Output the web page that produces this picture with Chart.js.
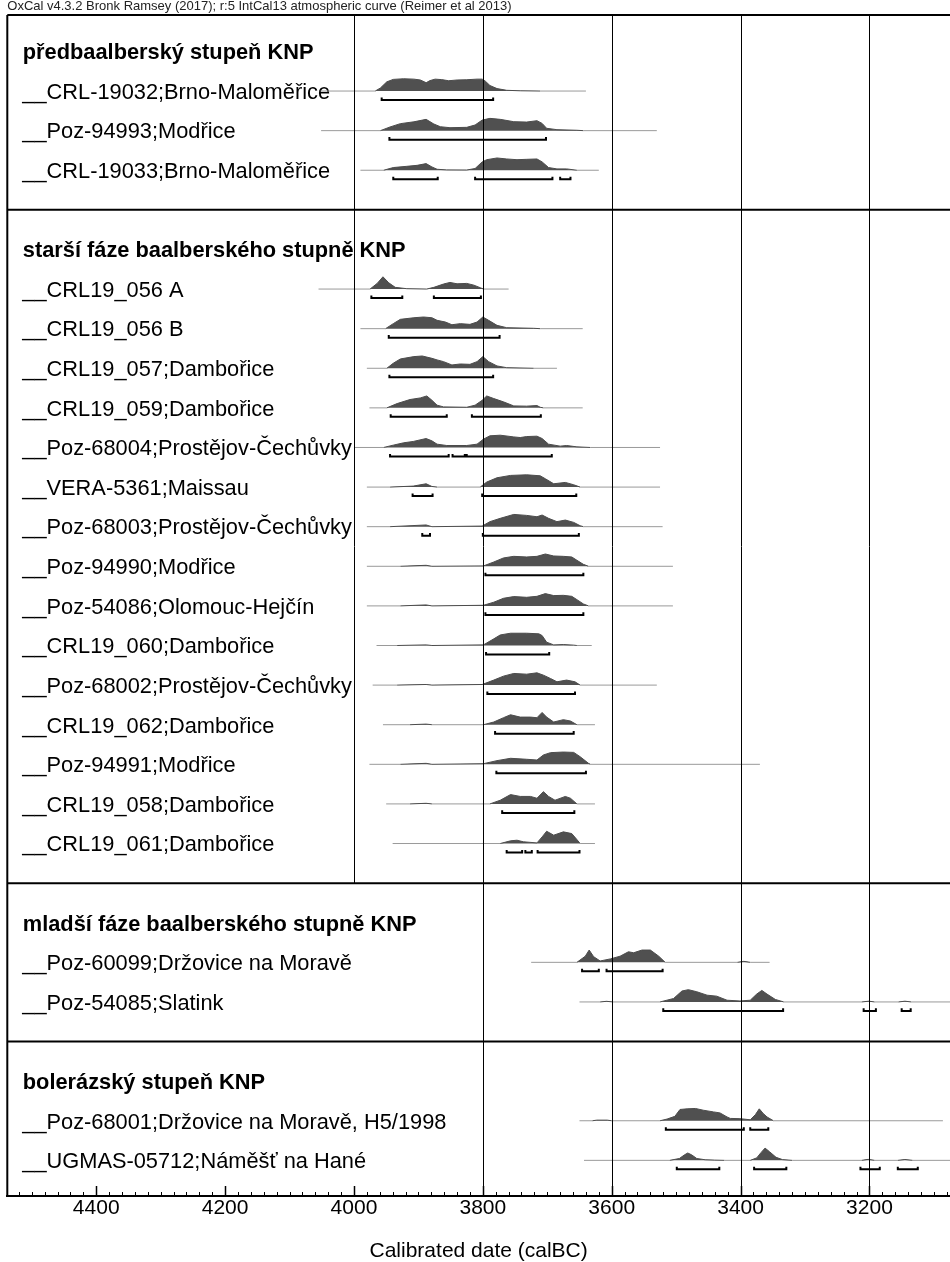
<!DOCTYPE html>
<html lang="cs">
<head>
<meta charset="UTF-8">
<title>OxCal multiplot</title>
<script src="https://cdn.jsdelivr.net/npm/chart.js"></script>
<style>
  body { margin: 0; background: #fff; }
  canvas { display: block; }
</style>
</head>
<body>
<canvas id="oxcal" width="950" height="1262"></canvas>
<script>
const header = 'OxCal v4.3.2 Bronk Ramsey (2017); r:5 IntCal13 atmospheric curve (Reimer et al 2013)';

const sections = [
  'předbaalberský stupeň KNP',
  'starší fáze baalberského stupně KNP',
  'mladší fáze baalberského stupně KNP',
  'bolerázský stupeň KNP'
];

const sampleSection = [0, 0, 0, 1, 1, 1, 1, 1, 1, 1, 1, 1, 1, 1, 1, 1, 1, 1, 2, 2, 3, 3];

const sampleLabels = [
  '__CRL-19032;Brno-Maloměřice',
  '__Poz-94993;Modřice',
  '__CRL-19033;Brno-Maloměřice',
  '__CRL19_056 A',
  '__CRL19_056 B',
  '__CRL19_057;Dambořice',
  '__CRL19_059;Dambořice',
  '__Poz-68004;Prostějov-Čechůvky',
  '__VERA-5361;Maissau',
  '__Poz-68003;Prostějov-Čechůvky',
  '__Poz-94990;Modřice',
  '__Poz-54086;Olomouc-Hejčín',
  '__CRL19_060;Dambořice',
  '__Poz-68002;Prostějov-Čechůvky',
  '__CRL19_062;Dambořice',
  '__Poz-94991;Modřice',
  '__CRL19_058;Dambořice',
  '__CRL19_061;Dambořice',
  '__Poz-60099;Držovice na Moravě',
  '__Poz-54085;Slatink',
  '__Poz-68001;Držovice na Moravě, H5/1998',
  '__UGMAS-05712;Náměšť na Hané'
];

// extent of the thin line under each distribution (calBC)
const lineSpans = [
  [4052, 3640], [4051, 3530], [3990, 3620],
  [4055, 3760], [3990, 3645], [3980, 3685], [3976, 3645], [4000, 3525],
  [3980, 3525], [3980, 3521], [3980, 3505], [3980, 3505], [3965, 3631],
  [3971, 3530], [3955, 3626], [3976, 3370], [3950, 3626], [3940, 3626],
  [3725, 3355], [3650, 3060],
  [3650, 3086], [3643, 3060]
];

// probability shape: [calBC, height relative to peak]
const densities = [
  [[3967,0],[3959,.25],[3949,.75],[3939,.95],[3923,1],[3907,.97],[3897,.9],[3888,.68],[3882,.85],[3874,.97],[3864,.93],[3853,.84],[3840,.9],[3825,.92],[3809,.97],[3801,.97],[3796,.8],[3789,.45],[3778,.2],[3763,.06],[3742,.02],[3711,0]],
  [[3959,0],[3944,.3],[3928,.57],[3907,.72],[3888,.92],[3876,.54],[3866,.32],[3851,.24],[3825,.27],[3812,.46],[3801,.86],[3789,1],[3773,.92],[3752,.73],[3732,.7],[3716,.81],[3708,.59],[3701,.19],[3685,.08],[3654,.03],[3644,0]],
  [[3954,0],[3939,.22],[3918,.32],[3902,.4],[3888,.54],[3879,.27],[3871,.08],[3856,.03],[3825,.02],[3812,.14],[3801,.68],[3794,.86],[3778,1],[3763,.92],[3747,.86],[3732,.89],[3716,.92],[3708,.68],[3698,.22],[3685,.11],[3670,.11],[3654,0]],
  [[3975,0],[3964,.46],[3955,1],[3946,.51],[3936,.14],[3918,.03],[3887,0],[3876,.14],[3861,.41],[3851,.54],[3840,.43],[3825,.46],[3814,.32],[3804,.11],[3799,0]],
  [[3951,0],[3939,.41],[3928,.76],[3907,.89],[3892,.95],[3879,.89],[3871,.68],[3858,.54],[3848,.32],[3835,.41],[3820,.35],[3809,.54],[3800,.95],[3791,.68],[3778,.27],[3763,.08],[3721,.03],[3711,0]],
  [[3949,0],[3939,.41],[3928,.76],[3907,.95],[3894,1],[3879,.81],[3871,.68],[3861,.54],[3848,.27],[3835,.35],[3820,.32],[3809,.54],[3800,.95],[3791,.54],[3778,.19],[3763,.05],[3721,0]],
  [[3949,0],[3933,.35],[3913,.68],[3897,.81],[3887,.97],[3879,.62],[3871,.22],[3861,.08],[3825,.05],[3812,.22],[3801,.62],[3794,.97],[3783,.76],[3768,.49],[3752,.16],[3732,.14],[3716,.19],[3711,.05],[3706,0]],
  [[3954,0],[3939,.19],[3923,.38],[3908,.49],[3888,.73],[3879,.54],[3871,.27],[3856,.16],[3825,.16],[3809,.27],[3799,.68],[3789,.95],[3773,1],[3752,.86],[3742,.81],[3732,.89],[3716,.92],[3708,.73],[3698,.27],[3680,.11],[3670,.16],[3654,.05],[3633,0]],
  [[3944,0],[3908,.08],[3888,.27],[3879,.05],[3871,0],[3804,0],[3794,.41],[3778,.76],[3757,.95],[3732,1],[3711,.92],[3703,.68],[3690,.27],[3672,.38],[3659,.19],[3649,0]],
  [[3944,0],[3888,.14],[3879,0],[3801,.05],[3789,.41],[3773,.68],[3752,1],[3732,.92],[3716,.81],[3708,.95],[3698,.68],[3685,.41],[3672,.54],[3659,.35],[3649,.08],[3644,0]],
  [[3928,0],[3888,.08],[3879,0],[3799,.03],[3783,.35],[3768,.68],[3752,.81],[3732,.76],[3716,.81],[3703,1],[3690,.84],[3675,.81],[3662,.76],[3654,.49],[3644,.16],[3636,0]],
  [[3928,0],[3888,.08],[3879,0],[3799,.05],[3783,.3],[3768,.62],[3752,.76],[3732,.7],[3716,.78],[3703,1],[3690,.84],[3675,.86],[3662,.78],[3654,.51],[3644,.16],[3636,0]],
  [[3933,0],[3888,.05],[3879,0],[3799,.05],[3783,.54],[3773,.86],[3757,1],[3732,1],[3713,.95],[3708,.81],[3701,.27],[3690,.05],[3675,.08],[3659,.03],[3654,0]],
  [[3933,0],[3888,.05],[3879,0],[3801,.05],[3783,.41],[3768,.73],[3752,.95],[3732,.89],[3716,1],[3706,.81],[3695,.54],[3685,.27],[3670,.41],[3657,.27],[3649,0]],
  [[3913,0],[3888,.05],[3879,0],[3799,0],[3783,.22],[3768,.57],[3757,.81],[3742,.62],[3726,.62],[3716,.57],[3708,1],[3701,.62],[3690,.22],[3675,.41],[3664,.3],[3654,0]],
  [[3928,0],[3888,.08],[3879,0],[3799,.05],[3778,.3],[3757,.49],[3732,.41],[3716,.35],[3706,.76],[3695,.95],[3675,1],[3659,.97],[3649,.62],[3636,.08],[3633,0]],
  [[3913,0],[3888,.05],[3879,0],[3789,0],[3773,.3],[3757,.76],[3742,.61],[3726,.61],[3716,.46],[3706,1],[3698,.61],[3688,.3],[3672,.61],[3664,.46],[3654,0]],
  [[3773,0],[3757,.22],[3747,.27],[3737,.14],[3716,.05],[3708,.54],[3701,1],[3690,.68],[3675,.95],[3662,.81],[3654,.32],[3649,0]],
  [[3654,0],[3641,.5],[3635,1],[3628,.46],[3618,.11],[3602,.28],[3587,.5],[3574,.86],[3566,.78],[3553,1],[3540,1],[3527,.5],[3517,0],[3405,0],[3395,.08],[3385,0]],
  [[3618,0],[3608,.05],[3598,0],[3525,0],[3504,.28],[3491,.89],[3481,1],[3468,.83],[3452,.55],[3437,.47],[3421,.14],[3401,.08],[3385,.14],[3375,.64],[3367,.94],[3359,.64],[3346,.2],[3333,0],[3212,0],[3201,.06],[3192,0],[3155,0],[3145,.06],[3135,0]],
  [[3630,0],[3623,.05],[3607,.05],[3600,0],[3525,0],[3514,.14],[3502,.36],[3494,.92],[3483,.97],[3470,1],[3458,.86],[3442,.72],[3432,.64],[3421,.31],[3416,.19],[3401,.17],[3385,.08],[3377,.5],[3371,.97],[3365,.6],[3359,.31],[3349,0]],
  [[3510,0],[3495,.15],[3487,.45],[3482,.6],[3476,.45],[3468,.15],[3455,.05],[3440,.02],[3425,0],[3385,0],[3375,.2],[3368,.65],[3362,1],[3355,.7],[3345,.25],[3335,.06],[3320,0],[3212,0],[3202,.08],[3192,0],[3156,0],[3145,.07],[3133,0]]
];

// 95.4% ranges (calBC)
const hpdRanges = [
  [[3957, 3784]],
  [[3945, 3702]],
  [[3939, 3870], [3812, 3692], [3680, 3664]],
  [[3973, 3925], [3876, 3803]],
  [[3946, 3774]],
  [[3945, 3784]],
  [[3943, 3856], [3817, 3710]],
  [[3944, 3853], [3847, 3828], [3825, 3693]],
  [[3909, 3878], [3801, 3655]],
  [[3894, 3882], [3800, 3651]],
  [[3796, 3644]],
  [[3796, 3644]],
  [[3795, 3697]],
  [[3793, 3657]],
  [[3781, 3659]],
  [[3779, 3640]],
  [[3770, 3658]],
  [[3763, 3739], [3734, 3724], [3715, 3650]],
  [[3646, 3620], [3608, 3521]],
  [[3520, 3334], [3209, 3190], [3150, 3136]],
  [[3516, 3395], [3385, 3357]],
  [[3499, 3433], [3379, 3329], [3214, 3184], [3156, 3125]]
];

const sectionGrid = [
  [4000, 3800, 3600, 3400, 3200],
  [4000, 3800, 3600, 3400, 3200],
  [3800, 3600, 3400, 3200],
  [3800, 3600, 3400, 3200]
];

const FONT = "'Liberation Sans', Arial, sans-serif";
const PEAK = 0.31;   // distribution height in rows
const BAR = 0.227;   // range bar below baseline
const TICK = 0.065;  // bracket end height

// each section: title line, one line per sample, then its border
let lineNo = 0;
const titleLine = [], sampleLine = [], borderLine = [];
sections.forEach((s, si) => {
  titleLine.push(lineNo++);
  sampleLabels.forEach((l, i) => { if (sampleSection[i] === si) sampleLine[i] = lineNo++; });
  borderLine.push(lineNo++);
});

const datasets = [];
sampleLabels.forEach((label, i) => {
  const base = sampleLine[i];
  const pts = [[lineSpans[i][0], 0], ...densities[i], [lineSpans[i][1], 0]];
  datasets.push({
    label: label,
    data: pts.map(([x, h]) => ({ x: x, y: base - h * PEAK })),
    fill: { value: base },
    backgroundColor: '#505050',
    borderWidth: 1,
    segment: {
      borderColor: c => (c.p0.parsed.y === base && c.p1.parsed.y === base) ? '#9a9a9a' : '#4c4c4c'
    },
    pointRadius: 0,
    tension: 0
  });
  const bars = [];
  const yb = base + BAR;
  hpdRanges[i].forEach(([a, b]) => {
    bars.push({ x: a, y: yb - TICK }, { x: a, y: yb }, { x: b, y: yb }, { x: b, y: yb - TICK }, { x: b, y: null });
  });
  datasets.push({
    label: label + ' 95.4%',
    data: bars,
    borderColor: '#000',
    borderWidth: 2,
    borderJoinStyle: 'miter',
    pointRadius: 0,
    fill: false,
    spanGaps: false
  });
});

const framePlugin = {
  id: 'frame',
  beforeDatasetsDraw(chart) {
    const { ctx, chartArea: a, scales: { y } } = chart;
    ctx.save();
    ctx.fillStyle = '#000';
    ctx.textBaseline = 'alphabetic';
    ctx.font = 'bold 21.8px ' + FONT;
    sections.forEach((t, si) => ctx.fillText(t, a.left + 15.5, y.getPixelForValue(titleLine[si]) + 7.8));
    ctx.font = '21.8px ' + FONT;
    sampleLabels.forEach((t, i) => ctx.fillText(t, a.left + 15, y.getPixelForValue(sampleLine[i]) + 7.8));
    ctx.restore();
  },
  afterDatasetsDraw(chart) {
    const { ctx, chartArea: a, scales: { x, y } } = chart;
    ctx.save();
    ctx.strokeStyle = '#000';
    ctx.lineWidth = 1;
    sections.forEach((s, si) => {
      const top = si === 0 ? a.top : y.getPixelForValue(borderLine[si - 1]);
      const bottom = si === sections.length - 1 ? a.bottom : y.getPixelForValue(borderLine[si]);
      sectionGrid[si].forEach(v => {
        const px = Math.round(x.getPixelForValue(v)) + 0.5;
        ctx.beginPath(); ctx.moveTo(px, top); ctx.lineTo(px, bottom); ctx.stroke();
      });
    });
    ctx.lineWidth = 2;
    const hs = [a.top, ...borderLine.slice(0, -1).map(v => y.getPixelForValue(v))];
    hs.forEach(py => { ctx.beginPath(); ctx.moveTo(a.left, py); ctx.lineTo(a.right, py); ctx.stroke(); });
    ctx.beginPath(); ctx.moveTo(a.left, a.top); ctx.lineTo(a.left, a.bottom); ctx.stroke();
    // inward ticks on the date axis
    x.ticks.forEach(t => {
      const px = Math.round(x.getPixelForValue(t.value)) + 0.5;
      const major = t.value % 200 === 0;
      ctx.lineWidth = major ? 1.5 : 1;
      ctx.beginPath(); ctx.moveTo(px, a.bottom); ctx.lineTo(px, a.bottom - (major ? 10 : 4)); ctx.stroke();
    });
    ctx.restore();
  }
};

new Chart(document.getElementById('oxcal'), {
  type: 'line',
  data: { datasets: datasets },
  options: {
    responsive: false,
    animation: false,
    events: [],
    layout: { padding: { left: 7.3, top: 0, right: 0, bottom: 0 } },
    plugins: {
      legend: { display: false },
      tooltip: { enabled: false },
      title: {
        display: true,
        text: header,
        align: 'start',
        color: '#222',
        font: { family: FONT, size: 13, weight: 'normal', lineHeight: 1 },
        padding: { top: 0, bottom: 2 }
      }
    },
    scales: {
      x: {
        type: 'linear',
        reverse: true,
        min: 3075,
        max: 4538,
        afterBuildTicks: s => {
          s.ticks = [];
          for (let v = 3080; v <= 4520; v += 20) s.ticks.push({ value: v });
        },
        afterFit: s => { s.height = 66; },
        grid: { drawOnChartArea: false, drawTicks: false },
        border: { display: true, color: '#000', width: 2 },
        ticks: {
          autoSkip: false,
          maxRotation: 0,
          padding: 0,
          color: '#000',
          font: { family: FONT, size: 21 },
          callback: v => (v % 200 === 0 ? String(v) : '')
        },
        title: {
          display: true,
          text: 'Calibrated date (calBC)',
          color: '#000',
          font: { family: FONT, size: 21, lineHeight: 1 },
          padding: { top: 0, bottom: 0 }
        }
      },
      y: {
        display: false,
        reverse: true,
        min: -0.92,
        max: 28.9
      }
    }
  },
  plugins: [framePlugin]
});
</script>
</body>
</html>
